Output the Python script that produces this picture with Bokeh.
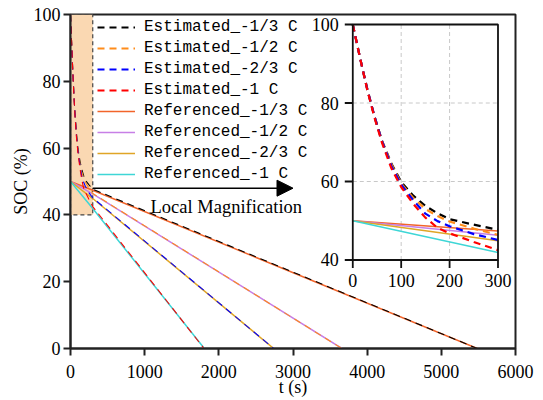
from bokeh.plotting import figure
from bokeh.models import Range1d, FixedTicker, Legend, LegendItem, Arrow, NormalHead
from bokeh.core.properties import value
from bokeh.embed import file_html
from bokeh.resources import INLINE

# ---------------- data ----------------
x_ticks = [0, 1000, 2000, 3000, 4000, 5000, 6000]
y_ticks = [0, 20, 40, 60, 80, 100]
inset_x_ticks = [0, 100, 200, 300]
inset_y_ticks = [40, 60, 80, 100]

est_t_13 = [0, 15, 30, 45, 60, 80, 100, 125, 150, 175, 200, 250, 300, 5485]
est_soc_13 = [100, 91.5, 83.5, 76.5, 70.5, 64.5, 59.9, 56.4, 53.8, 51.9, 50.4, 49.0, 47.7, 0]
est_t_12 = [0, 15, 30, 45, 60, 80, 100, 125, 150, 175, 200, 250, 300, 3660]
est_soc_12 = [100, 91.5, 83.5, 76.5, 70.5, 64.3, 59.5, 55.8, 53.0, 51.2, 49.8, 48.0, 46.4, 0]
est_t_23 = [0, 15, 30, 45, 60, 80, 100, 125, 150, 175, 200, 250, 300, 2740]
est_soc_23 = [100, 91.5, 83.5, 76.5, 70.4, 63.9, 59.2, 55.2, 51.8, 49.9, 48.6, 46.6, 45.1, 0]
est_t_1 = [0, 15, 30, 45, 60, 80, 100, 125, 150, 175, 200, 250, 300, 1800]
est_soc_1 = [100, 91.5, 83.3, 76.2, 70.0, 63.3, 58.6, 54.3, 50.8, 48.2, 46.8, 44.6, 42.5, 0]

ref_t_13 = [0, 300, 5485]
ref_soc_13 = [50, 47.4, 0]
ref_t_12 = [0, 300, 3660]
ref_soc_12 = [50, 46.3, 0]
ref_t_23 = [0, 300, 2740]
ref_soc_23 = [50, 44.9, 0]
ref_t_1 = [0, 300, 1805]
ref_soc_1 = [50, 41.9, 0]

mag_t = [0, 300]
mag_soc = [40, 100]
arrow_t = [300, 3000]
arrow_soc = 48

SERIF = "Liberation Serif"
MONO = "Liberation Mono"

est_series = [
    ("Estimated_-1/3 C", est_t_13, est_soc_13, "#000000"),
    ("Estimated_-1/2 C", est_t_12, est_soc_12, "#FF8C1A"),
    ("Estimated_-2/3 C", est_t_23, est_soc_23, "#0000FF"),
    ("Estimated_-1 C", est_t_1, est_soc_1, "#FF0000"),
]
ref_series = [
    ("Referenced_-1/3 C", ref_t_13, ref_soc_13, "#F2642A"),
    ("Referenced_-1/2 C", ref_t_12, ref_soc_12, "#C77FE6"),
    ("Referenced_-2/3 C", ref_t_23, ref_soc_23, "#E0A526"),
    ("Referenced_-1 C", ref_t_1, ref_soc_1, "#3ED6D6"),
]

# ---------------- main figure ----------------
p = figure(width=535, height=400, x_range=Range1d(0, 6000), y_range=Range1d(0, 100),
           output_backend="svg", toolbar_location=None, title=None,
           min_border_left=70, min_border_right=20, min_border_top=14, min_border_bottom=52)
p.xgrid.visible = False
p.ygrid.visible = False
p.background_fill_color = "white"
p.border_fill_color = "white"
p.outline_line_color = "#222222"
p.outline_line_width = 2
p.outline_line_alpha = 1

p.xaxis.ticker = FixedTicker(ticks=x_ticks)
p.yaxis.ticker = FixedTicker(ticks=y_ticks)
p.axis.major_tick_out = 7
p.axis.major_tick_in = 0
p.axis.minor_tick_out = 0
p.axis.minor_tick_in = 0
p.axis.axis_line_width = 2
p.axis.axis_line_color = "#222222"
p.axis.major_tick_line_width = 2
p.axis.major_tick_line_color = "#222222"
p.axis.major_label_text_font = SERIF
p.axis.major_label_text_font_size = "18px"
p.axis.major_label_text_color = "black"
p.axis.axis_label_text_font = SERIF
p.axis.axis_label_text_font_size = "18px"
p.axis.axis_label_text_font_style = "normal"
p.axis.axis_label_text_color = "black"
p.xaxis.major_label_standoff = 9
p.yaxis.major_label_standoff = 3
p.xaxis.axis_label = "t (s)"
p.yaxis.axis_label = "SOC (%)"
p.xaxis.axis_label_standoff = -4
p.yaxis.axis_label_standoff = 0

# magnification box
p.quad(left=mag_t[0], right=mag_t[1], bottom=mag_soc[0], top=mag_soc[1],
       fill_color="#FAD8B2", line_color="#444444", line_dash="4 3", line_width=1.2)

renderers = {}
for label, t, s, c in ref_series:
    renderers[label] = p.line(t, s, line_color=c, line_width=1.5)
for label, t, s, c in est_series:
    p.line(t, s, line_color=c, line_width=1.1, line_dash="7 5")

p.add_layout(Arrow(end=NormalHead(size=16, fill_color="black", line_color="black"),
                   x_start=arrow_t[0], y_start=arrow_soc, x_end=arrow_t[1], y_end=arrow_soc,
                   line_width=1.5, line_color="black"))
p.text(x=[2100], y=[42.3], text=["Local Magnification"], text_align="center",
       text_baseline="middle", text_font=value(SERIF), text_font_size="18.5px", text_color="black")

# ---------------- inset ----------------
ins = p.subplot(x_source=Range1d(inset_x_ticks[0], inset_x_ticks[-1]),
                y_source=Range1d(inset_y_ticks[0], inset_y_ticks[-1]),
                x_target=Range1d(3806, 5764), y_target=Range1d(26.5, 97.0))
x0, x1 = inset_x_ticks[0], inset_x_ticks[-1]
y0, y1 = inset_y_ticks[0], inset_y_ticks[-1]
ins.quad(left=x0, right=x1, bottom=y0, top=y1, fill_color="white", line_alpha=0)
ins.segment(x0=inset_x_ticks[1:-1], y0=y0, x1=inset_x_ticks[1:-1], y1=y1,
            line_color="#C8C8C8", line_dash="4 3", line_width=1)
ins.segment(x0=x0, y0=inset_y_ticks[1:-1], x1=x1, y1=inset_y_ticks[1:-1],
            line_color="#C8C8C8", line_dash="4 3", line_width=1)
for label, t, s, c in ref_series:
    pts = [(a, b) for a, b in zip(t, s) if a <= x1]
    ins.line([a for a, b in pts], [b for a, b in pts], line_color=c, line_width=1.4)
for label, t, s, c in est_series:
    pts = [(a, b) for a, b in zip(t, s) if a <= x1]
    renderers[label] = ins.line([a for a, b in pts], [b for a, b in pts], line_color=c,
                                line_width=2.2, line_dash="7 5")
ins.quad(left=x0, right=x1, bottom=y0, top=y1, fill_alpha=0, line_color="#111111", line_width=1.8)
ins.ray(x=inset_x_ticks, y=y0, length=8, length_units="screen", angle=-90, angle_units="deg",
        line_color="#111111", line_width=1.8)
ins.ray(x=x0, y=inset_y_ticks, length=8, length_units="screen", angle=180, angle_units="deg",
        line_color="#111111", line_width=1.8)
ins.text(x=inset_x_ticks, y=y0, text=[str(v) for v in inset_x_ticks], text_align="center",
         text_baseline="top", y_offset=14, text_font=value(SERIF), text_font_size="18px",
         text_color="black")
ins.text(x=x0, y=inset_y_ticks, text=[str(v) for v in inset_y_ticks], text_align="right",
         text_baseline="middle", x_offset=-14, text_font=value(SERIF), text_font_size="18px",
         text_color="black")

# ---------------- legend ----------------
items = [LegendItem(label=lab, renderers=[renderers[lab]]) for lab, _, _, _ in est_series + ref_series]
legend = Legend(items=items, location=(27, 164), padding=0, margin=0, spacing=1,
                glyph_width=38, glyph_height=20, label_height=20, label_standoff=9,
                label_text_font=MONO, label_text_font_size="16px", label_text_color="black",
                background_fill_alpha=0, border_line_alpha=0)
p.add_layout(legend)

open("out.html", "w").write(file_html(p, INLINE))
